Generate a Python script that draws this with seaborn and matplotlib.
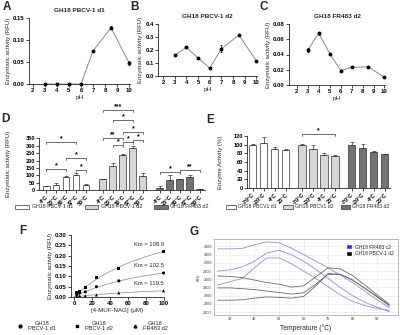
import numpy as np
import pandas as pd
import seaborn as sns
import matplotlib.pyplot as plt
from matplotlib.patches import Patch
from matplotlib.lines import Line2D

sns.set_theme(style="ticks")
plt.rcParams['font.family'] = ['Liberation Sans', 'DejaVu Sans']
plt.rcParams['axes.linewidth'] = 0.6

# ---------------- data ----------------
# A-C: activity vs pH
ph = [3, 4, 5, 6, 7, 8.5, 10]
ph_d1 = [0, 0, 0, 0, 0.075, 0.128, 0.048]
ph_d1_err = [0, 0, 0, 0, 0.002, 0.003, 0.005]
ph_d2 = [0.16, 0.22, 0.14, 0.06, 0.21, 0.315, 0.115]
ph_d2_err = [0.004, 0.006, 0.004, 0.004, 0.028, 0.005, 0.004]
ph_fr = [0.046, 0.068, 0.041, 0.019, 0.023, 0.024, 0.010]
ph_fr_err = [0.003, 0.002, 0.001, 0.001, 0.001, 0.001, 0.001]

enzymes = ['GH18 PBCV-1 d1', 'GH18 PBCV-1 d2', 'GH18 FR483 d2']
enzymes_e = ['GH18 PBCV1 d1', 'GH18 PBCV1 d2', 'GH18 FR483 d2']
bar_colors = ['white', '#d6d6d6', '#737373']

# D: activity vs temperature
temps_d = ['4°C', '25°C', '30°C', '37°C', '50°C']
rfu_d1 = [25, 35, 90, 100, 35]
rfu_d1_err = [4, 15, 3, 12, 3]
rfu_d2 = [75, 160, 235, 285, 95]
rfu_d2_err = [3, 20, 12, 12, 18]
rfu_fr = [15, 70, 75, 88, 5]
rfu_fr_err = [10, 30, 3, 15, 2]
# (group, bar i, bar j, height, label)
sig_d = [(0, 0, 3, 325, '*'), (0, 2, 4, 217, '*'), (0, 0, 2, 142, '*'), (0, 3, 4, 135, '*'),
         (1, 0, 3, 541, '***'), (1, 1, 3, 474, '*'), (1, 2, 4, 393, '*'), (1, 0, 2, 352, '**'),
         (1, 2, 3, 325, '*'), (1, 3, 4, 338, '*'), (1, 1, 2, 305, '*'),
         (2, 0, 2, 122, '*'), (2, 2, 4, 135, '**')]

# E: storage stability
temps_e = ['-70°C', '-20°C', '4°C', '25°C']
pct_d1 = [100, 105, 91, 87]
pct_d1_err = [2, 12, 4, 3]
pct_d2 = [100, 90, 77, 74]
pct_d2_err = [1, 10, 3, 2]
pct_fr = [100, 93, 82, 78]
pct_fr_err = [6, 9, 3, 1]
sig_e = [(1, 0, 3, 124, '*')]

# F: kinetics
conc = [3.1, 6.25, 12.5, 25, 50, 100]
kin_d1 = [0.012, 0.02, 0.025, 0.05, 0.078, 0.116]
kin_d2 = [0.02, 0.028, 0.045, 0.095, 0.14, 0.22]
kin_fr = [0.004, 0.006, 0.005, 0.01, 0.02, 0.03]
km = [102.5, 108.9, 119.5]
vmax = [0.235, 0.46, 0.066]

# G: thermal shift curves
temps_g = [25, 30, 35, 40, 45, 50, 55, 60, 65, 70, 75, 80, 85, 90, 95]
fr_1 = [2870, 2870, 2875, 2920, 2955, 2945, 2880, 2800, 2720, 2640, 2550, 2460, 2355, 2250, 2150]
fr_2 = [2600, 2615, 2650, 2720, 2820, 2850, 2800, 2720, 2620, 2510, 2400, 2300, 2220, 2160, 2105]
fr_3 = [2430, 2470, 2510, 2640, 2760, 2760, 2690, 2600, 2510, 2410, 2310, 2230, 2180, 2145, 2120]
pb_1 = [2540, 2535, 2520, 2490, 2460, 2440, 2405, 2420, 2530, 2640, 2625, 2545, 2430, 2310, 2195]
pb_2 = [2395, 2395, 2385, 2375, 2355, 2340, 2320, 2335, 2440, 2560, 2560, 2490, 2390, 2290, 2185]
pb_3 = [2245, 2245, 2250, 2270, 2285, 2280, 2270, 2290, 2420, 2570, 2560, 2490, 2390, 2285, 2175]

# ---------------- layout helpers ----------------
W, H = 400, 335
fig = plt.figure(figsize=(4, 3.35), dpi=100)


def px_axes(l, t, r, b):
    return fig.add_axes([l / W, 1 - b / H, (r - l) / W, (b - t) / H])


def bold_ticks(ax, size=4.3):
    ax.tick_params(length=2, width=0.5, pad=1, labelsize=size, colors='black')
    for lab in ax.get_xticklabels() + ax.get_yticklabels():
        lab.set_fontweight('bold')


def letter(x, y, s):
    fig.text(x / W, 1 - y / H, s, fontsize=8.5, fontweight='bold', va='top', ha='left')


def bracket(ax, x1, x2, y, label, h, color='#333333'):
    ax.plot([x1, x1, x2, x2], [y - h, y, y, y - h], color=color, lw=0.5, clip_on=False)
    ax.text((x1 + x2) / 2, y, label, ha='center', va='bottom', fontsize=5,
            fontweight='bold', color='black')


# ---------------- A-C ----------------
def ph_panel(box, y, err, title, ylim, yticks, fmt, xlim):
    ax = px_axes(*box)
    sns.lineplot(x=ph, y=y, color='#8a8a8a', lw=0.7, ax=ax)
    ax.errorbar(ph, y, yerr=err, fmt='o', ms=1.8, color='black', elinewidth=0.5,
                capsize=1, capthick=0.5, clip_on=False, zorder=3)
    ax.set_xlim(*xlim)
    ax.set_ylim(*ylim)
    ax.set_xticks(range(2, 11))
    ax.set_yticks(yticks)
    ax.set_yticklabels([fmt.format(v) for v in yticks])
    ax.set_title(title, fontsize=4.6, fontweight='bold', pad=4)
    ax.set_xlabel('pH', fontsize=4.6, labelpad=1.5)
    ax.set_ylabel('Enzymatic activity (RFU)', fontsize=4.3, labelpad=1.5)
    sns.despine(ax=ax)
    bold_ticks(ax)
    return ax


ph_panel((29, 18, 130, 84), ph_d1, ph_d1_err, enzymes[0], (0, 0.15),
         [0, 0.05, 0.10, 0.15], '{:.2f}', (1.67, 10.08))
ph_panel((158, 24, 257, 76), ph_d2, ph_d2_err, enzymes[1], (0, 0.4),
         [0, 0.1, 0.2, 0.3, 0.4], '{:.1f}', (1.57, 10.05))
ph_panel((289, 24, 385, 85), ph_fr, ph_fr_err, enzymes[2], (0, 0.08),
         [0, 0.02, 0.04, 0.06, 0.08], '{:.2f}', (1.27, 10.05))


# ---------------- bar panels ----------------
def bar_panel(ax, groups, errs, labels, gap, sigs, h):
    n = len(labels)
    rows = []
    for g, (vals, er) in enumerate(zip(groups, errs)):
        for i, (v, e) in enumerate(zip(vals, er)):
            rows.append({'pos': round(g * (n + gap) + i, 3), 'val': v, 'err': e, 'grp': g})
    df = pd.DataFrame(rows)
    sns.barplot(data=df, x='pos', y='val', hue='grp', palette=bar_colors, native_scale=True,
                dodge=False, width=0.7, edgecolor='#333333', linewidth=0.5,
                errorbar=None, legend=False, ax=ax)
    ax.errorbar(df['pos'], df['val'], yerr=[np.zeros(len(df)), df['err']], fmt='none',
                ecolor='#333333', elinewidth=0.5, capsize=1.3, capthick=0.5)
    ax.set_xticks(df['pos'])
    ax.set_xticklabels(labels * len(groups), rotation=45, ha='right', rotation_mode='anchor')
    for g, i, j, y, s in sigs:
        bracket(ax, g * (n + gap) + i, g * (n + gap) + j, y, s, h)
    ax.set_xlabel('')
    sns.despine(ax=ax)
    return df


def bar_legend(ax, labels, x, fs, hl, cs):
    ax.legend(handles=[Patch(facecolor=c, edgecolor='#333333', lw=0.5) for c in bar_colors],
              labels=labels, ncol=3, fontsize=fs, frameon=False, handlelength=hl,
              handleheight=0.7, columnspacing=cs, handletextpad=0.5,
              loc='center', bbox_to_anchor=(x / W, 1 - 207 / H), bbox_transform=fig.transFigure)


axd = px_axes(39, 106, 205, 190)
bar_panel(axd, [rfu_d1, rfu_d2, rfu_fr], [rfu_d1_err, rfu_d2_err, rfu_fr_err],
          temps_d, 0.7, sig_d, 14)
axd.set_xlim(-0.7, 15.9)
axd.set_ylim(0, 570)
axd.set_yticks(range(0, 351, 50))
axd.spines['left'].set_bounds(0, 350)
axd.set_ylabel('Enzymatic activity (RFU)', fontsize=4.3, labelpad=1.5)
axd.yaxis.set_label_coords(-0.17, 0.31)
bold_ticks(axd, 4.1)
bar_legend(axd, enzymes, 112, 3.8, 2.6, 2.2)

axe = px_axes(247, 129.5, 390, 188)
bar_panel(axe, [pct_d1, pct_d2, pct_fr], [pct_d1_err, pct_d2_err, pct_fr_err],
          temps_e, 0.5, sig_e, 3)
axe.set_xlim(-0.5, 12.5)
axe.set_ylim(0, 135)
axe.set_yticks(range(0, 121, 20))
axe.spines['left'].set_bounds(0, 120)
axe.set_ylabel('Enzyme Activity (%)', fontsize=4.3, labelpad=1.5)
axe.yaxis.set_label_coords(-0.17, 0.44)
bold_ticks(axe, 4.1)
bar_legend(axe, enzymes_e, 308, 3.7, 1.8, 1.3)

# ---------------- F ----------------
axf = px_axes(71, 235, 164, 297)
xs = np.linspace(0, 100, 200)
markers = ['o', 's', '^']
for vals, k, vm, m in zip([kin_d1, kin_d2, kin_fr], km, vmax, markers):
    sns.lineplot(x=xs, y=vm * xs / (k + xs), color='#9a9a9a', lw=0.6, ax=axf)
    sns.scatterplot(x=conc, y=vals, marker=m, s=5, color='black', edgecolor='none',
                    ax=axf, zorder=3, clip_on=False)
    axf.text(100, vm * 100 / (k + 100) + 0.022, f'Km = {k}', ha='right', va='bottom',
             fontsize=4.2)
axf.set_xlim(-3.4, 100.5)
axf.set_ylim(0, 0.30)
axf.set_xticks(range(0, 101, 20))
axf.set_yticks([0, 0.05, 0.10, 0.15, 0.20, 0.25, 0.30])
axf.set_yticklabels(['0.00', '0.05', '0.10', '0.15', '0.20', '0.25', '0.30'])
axf.set_xlabel('[4-MUF-NAG] (μM)', fontsize=4.4, labelpad=1.5)
axf.set_ylabel('Enzymatic activity (RFU)', fontsize=4.3, labelpad=1.5)
sns.despine(ax=axf)
bold_ticks(axf)
leg = axf.legend(handles=[Line2D([], [], ls='none', marker=m, ms=2, color='black') for m in markers],
                 labels=['GH18\nPBCV-1 d1', 'GH18\nPBCV-1 d2', 'GH18\nFR483 d2'],
                 ncol=3, fontsize=4.1, frameon=False, handlelength=1.2, columnspacing=3.2,
                 handletextpad=0.8, loc='center', bbox_to_anchor=(92 / W, 1 - 326 / H),
                 bbox_transform=fig.transFigure)
for t in leg.get_texts():
    t.set_multialignment('center')

# ---------------- G ----------------
axg = px_axes(214, 239, 398, 315)
for c in [fr_1, fr_2, fr_3]:
    sns.lineplot(x=temps_g, y=c, color='#8f8fdc', lw=0.6, ax=axg)
for c in [pb_1, pb_2, pb_3]:
    sns.lineplot(x=temps_g, y=c, color='#6a6a6a', lw=0.6, ax=axg)
axg.set_xlim(23.5, 98.5)
axg.set_ylim(2065, 2990)
axg.set_xticks(range(30, 91, 10))
axg.set_yticks(range(2100, 3000, 100))
axg.grid(True, color='#bdbdbd', lw=0.4, ls=':')
for s in axg.spines.values():
    s.set_color('#9a9a9a')
    s.set_linewidth(0.5)
axg.tick_params(length=0, pad=1.5, labelsize=2.8, colors='#333333')
axg.set_xlabel('Temperature (°C)', fontsize=4.8, labelpad=2)
axg.set_ylabel('RFU', fontsize=2.6, labelpad=2)
axg.legend(handles=[Patch(facecolor='#2b2bff'), Patch(facecolor='black')],
           labels=['GH18 FR483 c2', 'GH18 PBCV-1 d2'], fontsize=3.6, frameon=False,
           handlelength=1.2, handleheight=1.2, handletextpad=0.5, labelspacing=0.3,
           loc='upper right', bbox_to_anchor=(1.0, 0.99))

# ---------------- panel letters ----------------
letter(3, 1, 'A')
letter(130, 1, 'B')
letter(260, 1, 'C')
letter(1, 113, 'D')
letter(206, 114, 'E')
letter(19, 225, 'F')
letter(189, 226, 'G')

fig.savefig('out.png', dpi=100)
